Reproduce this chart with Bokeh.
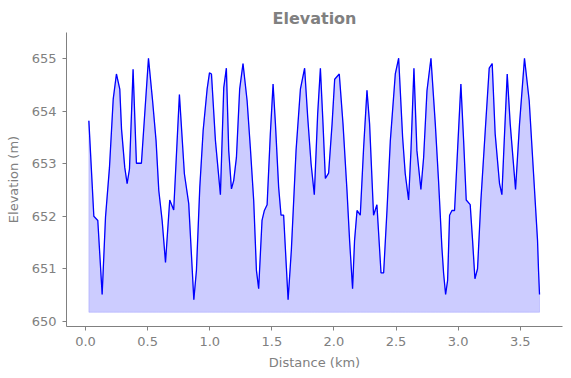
from bokeh.plotting import figure
from bokeh.models import Range1d, FixedTicker, NumeralTickFormatter
from bokeh.embed import file_html
from bokeh.resources import INLINE

distance_km = [0.027, 0.067, 0.099, 0.134, 0.161, 0.193, 0.223, 0.249, 0.276, 0.29, 0.316, 0.335, 0.354,
               0.383, 0.41, 0.45, 0.507, 0.54, 0.568, 0.59, 0.617, 0.644, 0.678, 0.71, 0.756, 0.796,
               0.831, 0.872, 0.893, 0.92, 0.947, 0.979, 0.998, 1.014, 1.046, 1.086, 1.113, 1.134,
               1.153, 1.175, 1.193, 1.215, 1.241, 1.268, 1.301, 1.327, 1.354, 1.376, 1.394, 1.421,
               1.44, 1.462, 1.488, 1.51, 1.529, 1.555, 1.574, 1.595, 1.617, 1.631, 1.657, 1.695,
               1.73, 1.764, 1.789, 1.816, 1.842, 1.869, 1.891, 1.912, 1.931, 1.957, 1.985, 2.006,
               2.043, 2.073, 2.105, 2.126, 2.15, 2.166, 2.186, 2.212, 2.239, 2.266, 2.287, 2.319,
               2.346, 2.379, 2.4, 2.427, 2.454, 2.494, 2.521, 2.553, 2.574, 2.601, 2.62, 2.644,
               2.668, 2.70, 2.722, 2.749, 2.781, 2.816, 2.842, 2.869, 2.883, 2.899, 2.915, 2.931,
               2.95, 2.971, 2.995, 3.022, 3.044, 3.065, 3.097, 3.116, 3.135, 3.156, 3.183, 3.218,
               3.25, 3.274, 3.298, 3.333, 3.352, 3.371, 3.395, 3.419, 3.462, 3.494, 3.534, 3.572,
               3.607, 3.639, 3.647, 3.655]
elevation_m = [653.82, 652.0, 651.92, 650.51, 651.98, 652.93, 654.23, 654.71, 654.42, 653.66, 652.93,
               652.62, 652.9, 654.8, 653.01, 653.01, 655.01, 654.2, 653.44, 652.49, 651.92, 651.12,
               652.31, 652.12, 654.32, 652.81, 652.24, 650.41, 650.97, 652.55, 653.63, 654.42,
               654.73, 654.71, 653.44, 652.41, 654.45, 654.82, 653.25, 652.52, 652.68, 653.12,
               654.42, 654.91, 654.2, 653.31, 652.3, 650.97, 650.62, 651.92, 652.11, 652.22,
               653.57, 654.52, 653.76, 652.55, 652.02, 652.02, 651.03, 650.41, 651.35, 653.25,
               654.42, 654.82, 653.88, 653.0, 652.41, 653.95, 654.82, 653.76, 652.72, 652.82,
               653.76, 654.61, 654.71, 653.76, 652.49, 651.54, 650.62, 651.54, 652.11, 652.02,
               653.31, 654.4, 653.76, 652.02, 652.22, 650.92, 650.92, 652.11, 653.44, 654.71,
               655.01, 653.5, 652.81, 652.31, 653.25, 654.82, 653.25, 652.51, 653.12, 654.39,
               655.01, 653.76, 652.68, 651.41, 650.91, 650.51, 650.78, 652.02, 652.11, 652.11,
               653.25, 654.52, 653.44, 652.31, 652.22, 651.54, 650.81, 651.0, 652.3, 653.63,
               654.82, 654.91, 653.57, 652.62, 652.41, 653.44, 654.71, 653.76, 652.51, 653.76,
               655.01, 654.2, 652.81, 651.54, 650.97, 650.51]
baseline_m = 650.17
x_ticks = [0.0, 0.5, 1.0, 1.5, 2.0, 2.5, 3.0, 3.5]
y_ticks = [650, 651, 652, 653, 654, 655]

GREY = "#808080"
FONT = "DejaVu Sans"

p = figure(width=571, height=378, output_backend="svg", toolbar_location=None,
           title="Elevation",
           x_range=Range1d(-0.153, 3.84), y_range=Range1d(649.9, 655.5),
           min_border_left=66, min_border_right=9, min_border_top=32, min_border_bottom=52)
p.frame_width = 496
p.frame_height = 294

p.title.align = "center"
p.title.text_color = GREY
p.title.text_font = FONT
p.title.text_font_style = "bold"
p.title.text_font_size = "16px"
p.title.offset = 40

p.patch(distance_km + distance_km[::-1], elevation_m + [baseline_m] * len(elevation_m),
        fill_color="blue", fill_alpha=0.2, line_color="blue", line_alpha=0.15, line_width=1)
p.line(distance_km, elevation_m, line_color="blue", line_width=1.3)

p.outline_line_color = None
p.xgrid.visible = False
p.ygrid.visible = False

for ax in (p.xaxis[0], p.yaxis[0]):
    ax.axis_line_color = GREY
    ax.major_tick_line_color = GREY
    ax.minor_tick_line_color = None
    ax.major_tick_out = 4
    ax.major_tick_in = 0
    ax.major_label_text_color = GREY
    ax.major_label_text_font = FONT
    ax.major_label_text_font_size = "13px"
    ax.axis_label_text_color = GREY
    ax.axis_label_text_font = FONT
    ax.axis_label_text_font_size = "13px"
    ax.axis_label_text_font_style = "normal"

p.xaxis.ticker = FixedTicker(ticks=x_ticks)
p.yaxis.ticker = FixedTicker(ticks=y_ticks)
p.xaxis.formatter = NumeralTickFormatter(format="0.0")
p.xaxis.axis_label = "Distance (km)"
p.yaxis.axis_label = "Elevation (m)"
p.xaxis.major_label_standoff = 6
p.yaxis.major_label_standoff = 6
p.xaxis.axis_label_standoff = 6
p.yaxis.axis_label_standoff = 8

open("out.html", "w").write(file_html(p, INLINE))
